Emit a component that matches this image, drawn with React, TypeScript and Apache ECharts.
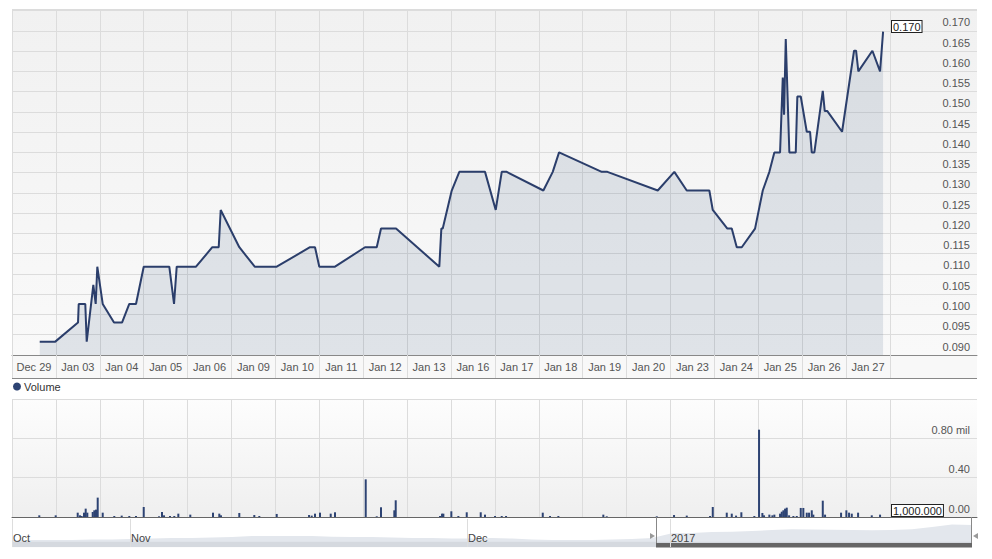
import React, { useEffect, useRef } from 'react';
import * as echarts from 'echarts';

const dayLabels = ['Dec 29', 'Jan 03', 'Jan 04', 'Jan 05', 'Jan 06', 'Jan 09', 'Jan 10', 'Jan 11', 'Jan 12', 'Jan 13',
  'Jan 16', 'Jan 17', 'Jan 18', 'Jan 19', 'Jan 20', 'Jan 23', 'Jan 24', 'Jan 25', 'Jan 26', 'Jan 27'];

// trading time as position in day slots (Dec 29 = slot 0)
const priceX = [0.632, 0.987, 1.505, 1.521, 1.671, 1.703, 1.854, 1.908, 1.945, 2.068, 2.326, 2.508, 2.674, 2.827,
  3.003, 3.586, 3.694, 3.755, 4.195, 4.567, 4.713, 4.758, 5.182, 5.534, 6.035, 6.794, 6.908, 7.006, 7.364,
  8.048, 8.315, 8.413, 8.755, 9.742, 9.788, 9.820, 10.025, 10.198, 10.784, 11.028, 11.165, 11.279, 12.114,
  12.328, 12.472, 13.445, 13.573, 14.722, 15.100, 15.383, 15.898, 15.976, 16.309, 16.409, 16.523, 16.637,
  16.940, 17.116, 17.266, 17.380, 17.510, 17.572, 17.601, 17.640, 17.722, 17.868, 17.904, 17.982, 18.119,
  18.194, 18.233, 18.292, 18.484, 18.529, 18.588, 18.924, 19.197, 19.243, 19.295, 19.615, 19.790, 19.859];
const priceY = [0.0933, 0.0933, 0.0980, 0.1026, 0.1026, 0.0933, 0.1073, 0.1026, 0.1118, 0.1026, 0.0980, 0.0980,
  0.1026, 0.1026, 0.1118, 0.1118, 0.1026, 0.1118, 0.1118, 0.1166, 0.1166, 0.1258, 0.1166, 0.1118, 0.1118,
  0.1166, 0.1166, 0.1118, 0.1118, 0.1166, 0.1166, 0.1212, 0.1212, 0.1118, 0.1212, 0.1212, 0.1306, 0.1352,
  0.1352, 0.1258, 0.1352, 0.1352, 0.1306, 0.1352, 0.1400, 0.1352, 0.1352, 0.1306, 0.1352, 0.1306, 0.1306,
  0.1258, 0.1212, 0.1212, 0.1166, 0.1166, 0.1212, 0.1306, 0.1352, 0.1400, 0.1400, 0.1585, 0.1493, 0.1680,
  0.1400, 0.1400, 0.1538, 0.1538, 0.1451, 0.1451, 0.1400, 0.1400, 0.1552, 0.1502, 0.1502, 0.1451, 0.1651,
  0.1651, 0.1600, 0.1651, 0.1600, 0.1698];

const volumeX = [0.622, 0.996, 1.498, 1.550, 1.589, 1.642, 1.680, 1.717, 1.840, 1.876, 1.915, 1.954, 2.068, 2.332,
  2.501, 2.674, 2.827, 3.003, 3.352, 3.420, 3.466, 3.602, 3.700, 3.792, 4.065, 4.583, 4.726, 4.765, 5.182,
  5.524, 5.638, 6.035, 6.772, 6.833, 6.908, 7.022, 7.266, 7.364, 8.064, 8.315, 8.413, 8.716, 8.748, 9.758,
  9.804, 9.834, 10.016, 10.176, 10.367, 10.686, 10.784, 11.012, 11.165, 11.263, 12.100, 12.266, 12.456,
  13.481, 13.559, 14.699, 15.093, 15.383, 15.914, 15.976, 16.295, 16.409, 16.507, 16.628, 16.924, 17.031,
  17.107, 17.145, 17.266, 17.335, 17.380, 17.510, 17.549, 17.586, 17.624, 17.663, 17.716, 17.814, 17.891,
  17.982, 18.041, 18.119, 18.171, 18.233, 18.269, 18.484, 18.536, 18.901, 19.022, 19.083, 19.145, 19.289,
  19.601, 19.790];
const volumeY = [17000, 17000, 44000, 17000, 10000, 44000, 85000, 44000, 51000, 68000, 75000, 197000, 44000,
  10000, 14000, 10000, 10000, 102000, 7000, 51000, 17000, 10000, 10000, 34000, 24000, 44000, 34000, 17000,
  41000, 20000, 10000, 31000, 20000, 14000, 34000, 44000, 34000, 48000, 383000, 7000, 99000, 68000, 170000,
  10000, 34000, 34000, 58000, 10000, 48000, 48000, 24000, 10000, 10000, 10000, 44000, 10000, 10000, 24000,
  7000, 7000, 20000, 14000, 10000, 102000, 44000, 34000, 14000, 48000, 10000, 888000, 41000, 17000, 24000,
  17000, 24000, 34000, 54000, 68000, 85000, 95000, 17000, 10000, 10000, 92000, 92000, 44000, 44000, 68000,
  24000, 166000, 24000, 44000, 68000, 44000, 34000, 44000, 17000, 24000];

const volumeTickLabels = ['0.00', '0.40', '0.80 mil', ''];
const volumeBoxLabel = '1,000.000';

// navigator (whole period, equally spaced trading samples)
const navValues = [0.054, 0.054, 0.054, 0.054, 0.058, 0.058, 0.062, 0.066, 0.070, 0.070, 0.074, 0.078, 0.085,
  0.085, 0.085, 0.085, 0.080, 0.078, 0.078, 0.074, 0.070, 0.070, 0.066, 0.066, 0.070, 0.066, 0.058, 0.054,
  0.054, 0.054, 0.058, 0.062, 0.070, 0.106, 0.108, 0.116, 0.119, 0.124, 0.132, 0.137, 0.136, 0.134, 0.132,
  0.129, 0.132, 0.137, 0.155, 0.174, 0.170];
const navMonthPos = [0, 5.9, 22.75, 32.9];
const navMonthNames = ['Oct', 'Nov', 'Dec', '2017'];

const FONT = '"Liberation Sans", Arial, sans-serif';
const NAVY = '#2b3e6b';

export default function App() {
  const ref = useRef<HTMLDivElement>(null);

  useEffect(() => {
    if (!ref.current) return;
    const chart = echarts.init(ref.current, undefined, { renderer: 'svg' });

    const priceData = priceX.map((x, i) => [x, priceY[i]]);
    const volData = volumeX.map((x, i) => [x, volumeY[i]]);
    const navData = navValues.map((v, i) => [i, v]);
    const lastPrice = priceY[priceY.length - 1].toFixed(3);

    const labelStyle = { fontSize: 11, color: '#555', fontFamily: FONT };

    const option: any = {
      animation: false,
      backgroundColor: '#fff',
      legend: {
        data: ['Volume'],
        left: 13,
        top: 381,
        icon: 'circle',
        itemWidth: 8,
        itemHeight: 8,
        itemGap: 4,
        padding: 0,
        textStyle: { fontSize: 11, color: '#333', fontFamily: FONT, padding: [0, 0, 0, -2] },
      },
      grid: [
        { left: 12, top: 9, width: 965, height: 346 },
        { left: 12, top: 9, width: 878, height: 346 },
        { left: 12, top: 399, width: 965, height: 118 },
        { left: 12, top: 399, width: 878, height: 118 },
        { left: 12, top: 519, width: 960, height: 28 },
      ],
      xAxis: [
        {
          gridIndex: 0, type: 'value', min: 0, max: 22,
          axisLine: { show: true, lineStyle: { color: '#888' } },
          axisTick: { show: false }, axisLabel: { show: false }, splitLine: { show: false },
        },
        {
          gridIndex: 1, type: 'category', data: dayLabels, boundaryGap: true,
          axisLine: { show: false },
          axisTick: { show: true, interval: 0, length: 23, lineStyle: { color: '#dcdcdc' } },
          axisLabel: { ...labelStyle, interval: 0, margin: 6 },
          splitLine: { show: true, interval: 0, lineStyle: { color: '#dcdcdc' } },
        },
        {
          gridIndex: 2, type: 'value', min: 0, max: 22,
          axisLine: { show: true, lineStyle: { color: '#666' } },
          axisTick: { show: false }, axisLabel: { show: false }, splitLine: { show: false },
        },
        {
          gridIndex: 3, type: 'category', data: dayLabels, boundaryGap: true,
          axisLine: { show: false }, axisTick: { show: false, interval: 0 },
          axisLabel: { show: false, interval: 0 },
          splitLine: { show: true, interval: 0, lineStyle: { color: '#dcdcdc' } },
        },
        {
          gridIndex: 4, type: 'value', min: 0, max: navValues.length - 1, z: 6,
          axisLine: { show: false },
          axisTick: { show: false, customValues: navMonthPos },
          axisLabel: {
            ...labelStyle, color: '#444', customValues: navMonthPos, inside: true, align: 'left',
            verticalAlign: 'bottom', margin: 4, padding: [0, 0, 0, 1],
            formatter: (v: number) => navMonthNames[navMonthPos.indexOf(v)] ?? '',
          },
          splitLine: { show: true, lineStyle: { color: '#dddddd' } },
        },
      ],
      yAxis: [
        {
          gridIndex: 0, type: 'value', position: 'right', min: 0.09, max: 0.1754, interval: 0.005,
          axisLine: { show: false }, axisTick: { show: false },
          splitLine: { show: true, lineStyle: { color: '#dcdcdc' } },
          axisLabel: {
            ...labelStyle, inside: true, margin: 7, verticalAlign: 'bottom', padding: [0, 0, 3, 0],
            formatter: (v: number) => (v > 0.1725 ? '' : v.toFixed(3)),
          },
        },
        { gridIndex: 1, type: 'value', show: false },
        {
          gridIndex: 2, type: 'value', position: 'right', min: 0, max: 1200000, interval: 400000,
          axisLine: { show: false }, axisTick: { show: false },
          splitLine: { show: true, lineStyle: { color: '#dcdcdc' } },
          axisLabel: {
            ...labelStyle, inside: true, margin: 7, verticalAlign: 'bottom', padding: [0, 0, 3, 0],
            formatter: (v: number) => volumeTickLabels[Math.round(v / 400000)] ?? '',
          },
        },
        { gridIndex: 3, type: 'value', show: false },
        { gridIndex: 4, type: 'value', min: 0, max: 0.217, show: false },
      ],
      series: [
        {
          name: 'Price', type: 'line', xAxisIndex: 0, yAxisIndex: 0, data: priceData,
          showSymbol: false, symbol: 'none',
          lineStyle: { color: NAVY, width: 2 },
          areaStyle: { color: 'rgba(35,65,110,0.17)', origin: 'start' },
          z: 3,
        },
        {
          name: 'Volume', type: 'bar', xAxisIndex: 2, yAxisIndex: 2, data: volData,
          barWidth: 2, itemStyle: { color: '#2d4373' }, z: 3,
        },
        {
          name: 'Navigator', type: 'line', xAxisIndex: 4, yAxisIndex: 4, data: navData,
          showSymbol: false, symbol: 'none',
          lineStyle: { width: 0 },
          areaStyle: { color: '#e3e7ed', opacity: 1, origin: 'start' },
          z: 1,
        },
      ],
      graphic: [
        {
          type: 'rect', z: -10, shape: { x: 12, y: 9, width: 965, height: 346 },
          style: { fill: new echarts.graphic.LinearGradient(0, 0, 0, 1, [
            { offset: 0, color: '#f1f1f1' }, { offset: 1, color: '#f9f9f9' }]) },
        },
        {
          type: 'rect', z: -10, shape: { x: 12, y: 355, width: 965, height: 23 },
          style: { fill: '#f8f8f8' },
        },
        {
          type: 'rect', z: -10, shape: { x: 12, y: 399, width: 965, height: 118 },
          style: { fill: new echarts.graphic.LinearGradient(0, 0, 0, 1, [
            { offset: 0, color: '#fdfdfd' }, { offset: 1, color: '#efefef' }]) },
        },
        {
          type: 'line', z: 10, shape: { x1: 12, y1: 378.5, x2: 977, y2: 378.5 },
          style: { stroke: '#888', lineWidth: 1 },
        },
        {
          type: 'text', z: 100, x: 892, y: 21,
          style: {
            text: lastPrice, font: `11px ${FONT}`, fill: '#222', backgroundColor: '#fff',
            borderColor: '#222', borderWidth: 1, padding: [0, 1, 0, 1], lineHeight: 11, verticalAlign: 'top',
          },
        },
        {
          type: 'text', z: 100, x: 892, y: 505,
          style: {
            text: volumeBoxLabel, font: `11px ${FONT}`, fill: '#222', backgroundColor: '#fff',
            borderColor: '#222', borderWidth: 1, padding: [0, 1, 0, 1], lineHeight: 11, verticalAlign: 'top',
          },
        },
        {
          type: 'rect', z: 2, shape: { x: 12, y: 541.7, width: 960, height: 5.6 },
          style: { fill: 'rgba(0,0,0,0.06)' },
        },
        {
          type: 'rect', z: 2, shape: { x: 656, y: 543, width: 316, height: 4.5 },
          style: { fill: '#666' },
        },
        {
          type: 'line', z: 2, shape: { x1: 656.5, y1: 517, x2: 656.5, y2: 543 },
          style: { stroke: '#888', lineWidth: 1 },
        },
        {
          type: 'line', z: 2, shape: { x1: 971.5, y1: 517, x2: 971.5, y2: 543 },
          style: { stroke: '#888', lineWidth: 1 },
        },
        {
          type: 'polygon', z: 3, shape: { points: [[650, 533], [655, 536], [650, 539]] },
          style: { fill: '#999' },
        },
        {
          type: 'polygon', z: 3, shape: { points: [[978, 533], [973, 536], [978, 539]] },
          style: { fill: '#999' },
        },
      ],
    };

    chart.setOption(option);
    return () => chart.dispose();
  }, []);

  return (
    <div
      ref={ref}
      style={{ position: 'absolute', left: 0, top: 0, width: 992, height: 559, background: '#fff' }}
    />
  );
}
